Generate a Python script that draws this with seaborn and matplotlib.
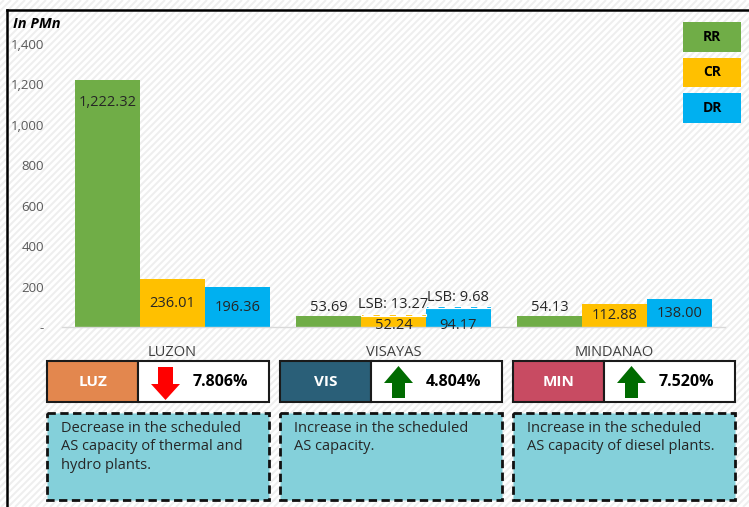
import numpy as np
import pandas as pd
import seaborn as sns
import matplotlib.pyplot as plt
from matplotlib.patches import Rectangle, Polygon
from matplotlib.collections import LineCollection

# data
regions = ["LUZON", "VISAYAS", "MINDANAO"]
series = ["RR", "CR", "DR"]
rr_values = [1222.32, 53.69, 54.13]
cr_values = [236.01, 52.24, 112.88]
dr_values = [196.36, 94.17, 138.00]
lsb_cr = [0, 13.27, 0]
lsb_dr = [0, 9.68, 0]
y_ticks = [0, 200, 400, 600, 800, 1000, 1200, 1400]

region_codes = ["LUZ", "VIS", "MIN"]
pct_change = [7.806, 4.804, 7.520]
direction = ["down", "up", "up"]
notes = [
    "Decrease in the scheduled\nAS capacity of thermal and\nhydro plants.",
    "Increase in the scheduled\nAS capacity.",
    "Increase in the scheduled\nAS capacity of diesel plants.",
]

colors = {"RR": "#70AD47", "CR": "#FFC000", "DR": "#00B0F0"}
code_colors = ["#E3874E", "#2A5F78", "#C84B62"]

df = pd.DataFrame({
    "region": np.repeat(regions, 3),
    "series": series * 3,
    "value": [v for trio in zip(rr_values, cr_values, dr_values) for v in trio],
})
lsb = {"CR": lsb_cr, "DR": lsb_dr}

plt.rcParams["font.family"] = ["Open Sans", "DejaVu Sans"]

W, H = 749, 507
fig = plt.figure(figsize=(W / 100, H / 100), dpi=100)

# background layer in pixel coordinates
bg = fig.add_axes([0, 0, 1, 1], zorder=0)
bg.set_xlim(0, W)
bg.set_ylim(H, 0)
bg.axis("off")
stripes = [[(k, H), (k + H, 0)] for k in range(-H - 10, W + 10, 7)]
bg.add_collection(LineCollection(stripes, colors="#EEEEEE", linewidths=1.4, zorder=0))
bg.plot([6.5, 6.5], [H + 5, 10], color="black", lw=1.8, solid_capstyle="projecting")
bg.plot([6.5, W + 5], [10, 10], color="black", lw=1.8, solid_capstyle="projecting")
bg.text(13, 24, "In PMn", fontsize=10.5, fontweight="bold", fontstyle="italic",
        va="center", ha="left", color="black")

# legend boxes
for i, s in enumerate(series):
    y0 = 22 + i * 35.5
    bg.add_patch(Rectangle((683, y0), 58, 29.5, color=colors[s], lw=0, zorder=3))
    bg.text(712, y0 + 15, s, ha="center", va="center", fontsize=10,
            fontweight="bold", color="black", zorder=4)

# region summary boxes
for i, code in enumerate(region_codes):
    x0 = 47 + i * 233
    bg.add_patch(Rectangle((x0, 361), 91, 41, facecolor=code_colors[i],
                           edgecolor="#1a1a1a", lw=1.5, zorder=3))
    bg.add_patch(Rectangle((x0 + 91, 361), 131, 41, facecolor="white",
                           edgecolor="#1a1a1a", lw=1.5, zorder=3))
    bg.text(x0 + 46, 382, code, ha="center", va="center", color="white",
            fontsize=11, fontweight="bold", zorder=4)
    bg.text(x0 + 173, 382, f"{pct_change[i]:.3f}%", ha="center", va="center",
            color="black", fontsize=11.5, fontweight="bold", zorder=4)
    cx = x0 + 118.5
    if direction[i] == "down":
        pts = [(cx - 7.5, 367), (cx + 7.5, 367), (cx + 7.5, 384), (cx + 14.5, 384),
               (cx, 400), (cx - 14.5, 384), (cx - 7.5, 384)]
        bg.add_patch(Polygon(pts, closed=True, color="#FF0000", lw=0, zorder=4))
    else:
        pts = [(cx, 366), (cx + 14.5, 383), (cx + 6.5, 383), (cx + 6.5, 398),
               (cx - 6.5, 398), (cx - 6.5, 383), (cx - 14.5, 383)]
        bg.add_patch(Polygon(pts, closed=True, color="#006B00", lw=0, zorder=4))
    bg.add_patch(Rectangle((x0, 413), 222, 87, facecolor="#84D0DA",
                           edgecolor="#111111", lw=2, linestyle=(0, (3, 1.6)),
                           zorder=3))
    bg.text(x0 + 14, 421, notes[i], ha="left", va="top", fontsize=10.5,
            color="#262626", linespacing=1.3, zorder=4)

# bar chart
ax = fig.add_axes([62 / W, 1 - 327 / H, 663 / W, (327 - 44) / H], zorder=1)
ax.patch.set_alpha(0)
sns.barplot(data=df, x="region", y="value", hue="series", palette=colors,
            hue_order=series, order=regions, width=0.88, saturation=1,
            linewidth=0, legend=False, ax=ax)
ax.set_xlim(-0.5, 2.5)
ax.set_ylim(0, 1400)
ax.set_yticks(y_ticks)
ax.set_yticklabels(["-" if t == 0 else f"{t:,}" for t in y_ticks])
ax.tick_params(axis="y", length=0, pad=13, labelsize=9.5, labelcolor="#595959")
ax.tick_params(axis="x", length=0, pad=13, labelsize=10.5, labelcolor="#404040")
ax.set_xlabel("")
ax.set_ylabel("")
for side in ["top", "right", "left"]:
    ax.spines[side].set_visible(False)
ax.spines["bottom"].set_color("#D9D9D9")
ax.spines["bottom"].set_linewidth(1)

lab = dict(fontsize=10.5, color="#262626", ha="center")
for s, cont in zip(series, ax.containers):
    for j, bar in enumerate(cont.patches):
        val = bar.get_height()
        xc = bar.get_x() + bar.get_width() / 2
        extra = lsb[s][j] if s in lsb else 0
        if extra:
            ax.bar(xc, extra, bottom=val, width=bar.get_width(), color=colors[s],
                   edgecolor="white", linewidth=0.8)
            mid = val + extra / 2
            ax.plot([bar.get_x() + 0.01, bar.get_x() + bar.get_width() - 0.01],
                    [mid, mid], color="white", lw=1.8, ls=(0, (4, 2.5)))
            ax.annotate(f"LSB: {extra:.2f}", (xc, val + extra), xytext=(0, 1),
                        textcoords="offset points", va="bottom", **lab)
            ax.annotate(f"{val:,.2f}", (xc, 0), xytext=(0, 1),
                        textcoords="offset points", va="center", **lab)
        elif val > 1000:
            ax.annotate(f"{val:,.2f}", (xc, val), xytext=(0, -16.5),
                        textcoords="offset points", va="center", **lab)
        elif s == "RR":
            ax.annotate(f"{val:,.2f}", (xc, val), xytext=(0, 1),
                        textcoords="offset points", va="bottom", **lab)
        else:
            ax.annotate(f"{val:,.2f}", (xc, val / 2), va="center", **lab)

fig.savefig("out.png", dpi=100)
